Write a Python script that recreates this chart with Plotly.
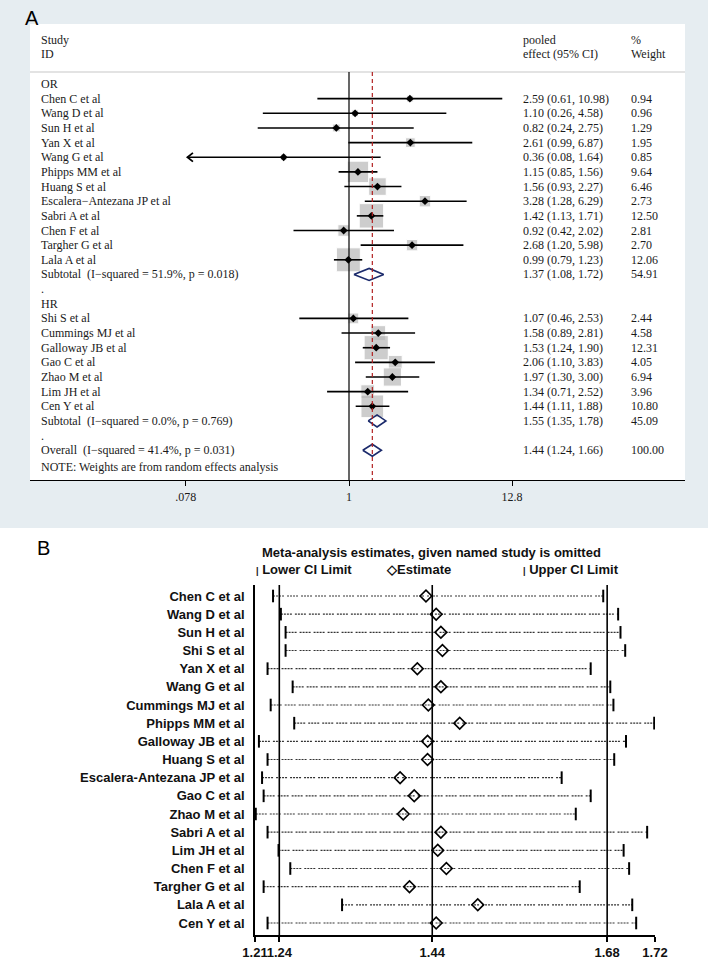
import plotly.graph_objects as go

W, H = 708, 962

# ---- panel A data (forest plot) ----
or_studies = ["Chen C et al", "Wang D et al", "Sun H et al", "Yan X et al", "Wang G et al",
              "Phipps MM et al", "Huang S et al", "Escalera\u2212Antezana JP et al", "Sabri A et al",
              "Chen F et al", "Targher G et al", "Lala A et al"]
or_est = [2.59, 1.10, 0.82, 2.61, 0.36, 1.15, 1.56, 3.28, 1.42, 0.92, 2.68, 0.99]
or_lo = [0.61, 0.26, 0.24, 0.99, 0.08, 0.85, 0.93, 1.28, 1.13, 0.42, 1.20, 0.79]
or_hi = [10.98, 4.58, 2.75, 6.87, 1.64, 1.56, 2.27, 6.29, 1.71, 2.02, 5.98, 1.23]
or_w = [0.94, 0.96, 1.29, 1.95, 0.85, 9.64, 6.46, 2.73, 12.50, 2.81, 2.70, 12.06]

hr_studies = ["Shi S et al", "Cummings MJ et al", "Galloway JB et al", "Gao C et al",
              "Zhao M et al", "Lim JH et al", "Cen Y et al"]
hr_est = [1.07, 1.58, 1.53, 2.06, 1.97, 1.34, 1.44]
hr_lo = [0.46, 0.89, 1.24, 1.10, 1.30, 0.71, 1.11]
hr_hi = [2.53, 2.81, 1.90, 3.83, 3.00, 2.52, 1.88]
hr_w = [2.44, 4.58, 12.31, 4.05, 6.94, 3.96, 10.80]

pooled_labels = ["Subtotal  (I\u2212squared = 51.9%, p = 0.018)",
                 "Subtotal  (I\u2212squared = 0.0%, p = 0.769)",
                 "Overall  (I\u2212squared = 41.4%, p = 0.031)"]
pooled_est = [1.37, 1.55, 1.44]
pooled_lo = [1.08, 1.35, 1.24]
pooled_hi = [1.72, 1.78, 1.66]
pooled_w = [54.91, 45.09, 100.00]

a_ticks = [0.078, 1, 12.8]
a_ticktext = [".078", "1", "12.8"]

# ---- panel B data (influence analysis) ----
b_names = ["Chen C et al", "Wang D et al", "Sun H et al", "Shi S et al", "Yan X et al",
           "Wang G et al", "Cummings MJ et al", "Phipps MM et al", "Galloway JB et al",
           "Huang S et al", "Escalera-Antezana JP et al", "Gao C et al", "Zhao M et al",
           "Sabri A et al", "Lim JH et al", "Chen F et al", "Targher G et al", "Lala A et al",
           "Cen Y et al"]
b_est = [1.428, 1.441, 1.447, 1.449, 1.417, 1.447, 1.431, 1.471, 1.430, 1.430,
         1.395, 1.413, 1.399, 1.447, 1.443, 1.454, 1.407, 1.494, 1.441]
b_lo = [1.233, 1.243, 1.249, 1.249, 1.226, 1.258, 1.230, 1.260, 1.215, 1.226,
        1.219, 1.221, 1.211, 1.226, 1.240, 1.255, 1.221, 1.321, 1.226]
b_hi = [1.654, 1.673, 1.676, 1.682, 1.638, 1.663, 1.667, 1.719, 1.683, 1.668,
        1.601, 1.638, 1.619, 1.710, 1.680, 1.687, 1.624, 1.691, 1.696]
b_overall = [1.241, 1.436, 1.659]
b_ticks = [1.21, 1.241, 1.436, 1.659, 1.72]
b_ticktext = ["1.21", "1.24", "1.44", "1.68", "1.72"]


def px(x):
    return x / W


def py(y):
    return (H - y) / H


# row layout for panel A
or_rows = list(range(1, 13))
hr_rows = list(range(16, 23))
pooled_rows = [13, 23, 25]

fig = go.Figure()

# CI lines
xs, ys = [], []
for lo, hi, r in zip(or_lo + hr_lo, or_hi + hr_hi, or_rows + hr_rows):
    xs += [lo, hi, None]
    ys += [r, r, None]

# weight boxes
fig.add_trace(go.Scatter(
    x=or_est + hr_est, y=or_rows + hr_rows, mode="markers",
    marker=dict(symbol="square", color="#b8b8b8",
                size=[6.9 * w ** 0.5 for w in or_w + hr_w]),
    xaxis="x", yaxis="y", hoverinfo="skip"))
fig.add_trace(go.Scatter(x=xs, y=ys, mode="lines", line=dict(color="black", width=1.6),
                         xaxis="x", yaxis="y", hoverinfo="skip"))
fig.add_trace(go.Scatter(
    x=or_est + hr_est, y=or_rows + hr_rows, mode="markers",
    marker=dict(symbol="diamond", color="black", size=6),
    xaxis="x", yaxis="y"))

# arrow for CI truncated on the left (Wang G)
wi = or_studies.index("Wang G et al")
ar = or_rows[wi]
fig.add_trace(go.Scatter(
    x=[or_lo[wi] * 1.09, or_lo[wi], or_lo[wi] * 1.09], y=[ar - 0.3, ar, ar + 0.3],
    mode="lines", line=dict(color="black", width=1.8), xaxis="x", yaxis="y"))

# pooled diamonds
for e, lo, hi, r in zip(pooled_est, pooled_lo, pooled_hi, pooled_rows):
    fig.add_trace(go.Scatter(
        x=[lo, e, hi, e, lo], y=[r, r - 0.41, r, r + 0.41, r], mode="lines",
        line=dict(color="#1b2a6b", width=1.6), xaxis="x", yaxis="y"))

# reference lines
y_top, y_bot = -0.82, 27.03
fig.add_trace(go.Scatter(x=[1, 1], y=[y_top, y_bot], mode="lines",
                         line=dict(color="black", width=1.2), xaxis="x", yaxis="y"))
fig.add_trace(go.Scatter(x=[pooled_est[2]] * 2, y=[y_top, y_bot], mode="lines",
                         line=dict(color="#b22222", width=1.2, dash="4px,3px"),
                         xaxis="x", yaxis="y"))

# ---- panel B traces ----
b_rows = list(range(len(b_names)))
bx, by = [], []
for lo, hi, r in zip(b_lo, b_hi, b_rows):
    bx += [lo, hi, None]
    by += [r, r, None]
fig.add_trace(go.Scatter(x=bx, y=by, mode="lines",
                         line=dict(color="#333", width=1.2, dash="2px,1px,2px,1px,2px,1px,2px,3px"),
                         xaxis="x2", yaxis="y2"))
for v in b_overall:
    fig.add_trace(go.Scatter(x=[v, v], y=[-0.605, 18.66], mode="lines",
                             line=dict(color="black", width=1.6), xaxis="x2", yaxis="y2"))
fig.add_trace(go.Scatter(x=b_lo + b_hi, y=b_rows + b_rows, mode="markers",
                         marker=dict(symbol="line-ns", size=9,
                                     line=dict(color="black", width=2)),
                         xaxis="x2", yaxis="y2"))
fig.add_trace(go.Scatter(x=b_est, y=b_rows, mode="markers",
                         marker=dict(symbol="diamond-open", size=9, color="black",
                                     line=dict(color="black", width=1.6)),
                         xaxis="x2", yaxis="y2"))

# ---- text annotations for panel A ----
serif = dict(family="Liberation Serif, Times New Roman, serif", size=12, color="#1a1a1a")
ann = []


def txt(x, row, s, **kw):
    ann.append(dict(x=px(x), y=row, xref="paper", yref="y", text=s, showarrow=False,
                    xanchor="left", yanchor="middle", font=serif, **kw))


txt(39, -3.0, "Study")
txt(39, -2.05, "ID")
txt(521, -3.0, "pooled")
txt(521, -2.05, "effect (95% CI)")
txt(629, -3.0, "%")
txt(629, -2.05, "Weight")
txt(39, 0, "OR")
txt(39, 15, "HR")
txt(39, 14, ".")
txt(39, 24, ".")
txt(39, 26.15, "NOTE: Weights are from random effects analysis")
for name, e, lo, hi, w, r in zip(or_studies + hr_studies + pooled_labels,
                                 or_est + hr_est + pooled_est,
                                 or_lo + hr_lo + pooled_lo,
                                 or_hi + hr_hi + pooled_hi,
                                 or_w + hr_w + pooled_w,
                                 or_rows + hr_rows + pooled_rows):
    txt(39, r, name)
    txt(521, r, f"{e:.2f} ({lo:.2f}, {hi:.2f})")
    txt(629, r, f"{w:.2f}")

sans = dict(family="Liberation Sans, Arial, sans-serif", size=13, color="#111")
sans_b = dict(family="Liberation Sans, Arial, sans-serif", size=13, color="#111", weight="bold")
ann.append(dict(x=px(32), y=py(18), xref="paper", yref="paper", text="A", showarrow=False,
                xanchor="center", yanchor="middle",
                font=dict(family="Liberation Sans, Arial", size=20, color="black")))
ann.append(dict(x=px(43), y=py(548), xref="paper", yref="paper", text="B", showarrow=False,
                xanchor="center", yanchor="middle",
                font=dict(family="Liberation Sans, Arial", size=20, color="black")))
ann.append(dict(x=px(431), y=py(552), xref="paper", yref="paper", showarrow=False,
                xanchor="center", yanchor="middle",
                text="<b>Meta-analysis estimates, given named study is omitted</b>", font=sans))
for x0, s in [(254, "<b><span style='font-size:9px'>|</span> Lower CI Limit</b>"),
              (384, "<b>\u25c7Estimate</b>"),
              (521, "<b><span style='font-size:9px'>|</span> Upper CI Limit</b>")]:
    ann.append(dict(x=px(x0), y=py(569), xref="paper", yref="paper", text=s, showarrow=False,
                    xanchor="left", yanchor="middle", font=sans))

# ---- background shapes ----
shapes = [
    dict(type="rect", xref="paper", yref="paper", x0=0, x1=1, y0=py(528), y1=1,
         fillcolor="#e6edf1", line=dict(width=0), layer="below"),
    dict(type="rect", xref="paper", yref="paper", x0=px(30), x1=px(685), y0=py(480), y1=py(24),
         fillcolor="white", line=dict(width=0), layer="below"),
    dict(type="line", xref="paper", yref="y", x0=px(30), x1=px(685), y0=y_top, y1=y_top,
         line=dict(color="#c8c8c8", width=1.2), layer="below"),
]

# log10 range of panel A from pixel scale (x=1 at 349px, 147.3 px per decade)
a_range = [(30 - 349) / 147.3, (685 - 349) / 147.3]

fig.update_layout(
    template="none",
    width=W, height=H, margin=dict(l=0, r=0, t=0, b=0, autoexpand=False),
    paper_bgcolor="white", plot_bgcolor="rgba(0,0,0,0)", showlegend=False,
    font=serif, annotations=ann, shapes=shapes,
    xaxis=dict(domain=[px(30), px(685)], type="log", range=a_range, automargin=False,
               tickvals=a_ticks, ticktext=a_ticktext, ticks="outside", ticklen=5,
               tickcolor="black", showline=True, linecolor="black", linewidth=1.2,
               showgrid=False, zeroline=False, tickfont=serif, tickangle=0, anchor="y"),
    yaxis=dict(domain=[py(480), py(24)], range=[27.03, -4.096], visible=False,
               automargin=False, anchor="x"),
    xaxis2=dict(domain=[px(255), px(655)], range=[1.21, 1.72], automargin=False,
                tickvals=b_ticks, ticktext=b_ticktext, ticks="outside", ticklen=5,
                tickwidth=1.6, tickcolor="black", showline=True, linecolor="black",
                linewidth=1.6, showgrid=False, zeroline=False, tickfont=sans_b,
                tickangle=0, anchor="y2"),
    yaxis2=dict(domain=[py(935), py(585)], range=[18.66, -0.605], automargin=False,
                tickvals=b_rows, ticktext=b_names, ticks="", showline=True,
                linecolor="black", linewidth=1.6, showgrid=False, zeroline=False,
                tickfont=sans_b, ticklabelstandoff=6, anchor="x2"),
)

# drop the default page margin so the figure sits at the window origin
fig.write_html("out.html", config={"displayModeBar": False},
               post_script="document.body.style.margin='0';document.body.style.overflow='hidden';")
